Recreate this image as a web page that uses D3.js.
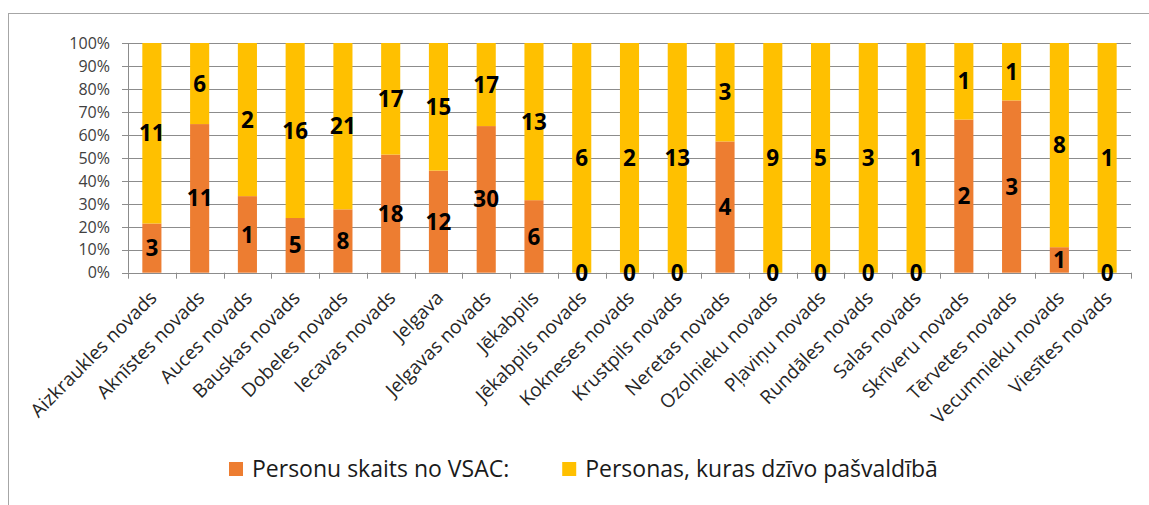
<!DOCTYPE html>
<html>
<head>
<meta charset="utf-8">
<script src="https://cdn.jsdelivr.net/npm/d3@7"></script>
<style>
  body { margin: 0; background: #fff; }
  text { font-family: "Open Sans", sans-serif; }
</style>
</head>
<body>
<svg id="chart" width="1149" height="505"></svg>
<script>
// categories (municipalities)
var categories = [
  "Aizkraukles novads", "Aknīstes novads", "Auces novads", "Bauskas novads",
  "Dobeles novads", "Iecavas novads", "Jelgava", "Jelgavas novads", "Jēkabpils",
  "Jēkabpils novads", "Kokneses novads", "Krustpils novads", "Neretas novads",
  "Ozolnieku novads", "Pļaviņu novads", "Rundāles novads", "Salas novads",
  "Skrīveru novads", "Tērvetes novads", "Vecumnieku novads", "Viesītes novads"
];
// Personu skaits no VSAC:
var fromVsac = [3, 11, 1, 5, 8, 18, 12, 30, 6, 0, 0, 0, 4, 0, 0, 0, 0, 2, 3, 1, 0];
// Personas, kuras dzīvo pašvaldībā
var living = [11, 6, 2, 16, 21, 17, 15, 17, 13, 6, 2, 13, 3, 9, 5, 3, 1, 1, 1, 8, 1];

var seriesNames = ["Personu skaits no VSAC:", "Personas, kuras dzīvo pašvaldībā"];
var yTicks = [0, 0.1, 0.2, 0.3, 0.4, 0.5, 0.6, 0.7, 0.8, 0.9, 1];

var colors = ["#ED7D31", "#FFC000"];

var svg = d3.select("#chart");

// outer chart frame (runs past the right and bottom edge of the picture)
svg.append("rect")
  .attr("x", 8.5).attr("y", 13.5)
  .attr("width", 1170).attr("height", 520)
  .attr("fill", "none")
  .attr("stroke", "#a6a6a6");

var plotLeft = 128, plotRight = 1131, plotTop = 43, plotBottom = 272.7;

var rows = categories.map(function(c, i) {
  return { cat: c, a: fromVsac[i], b: living[i] };
});

var stack = d3.stack().keys(["a", "b"]).offset(d3.stackOffsetExpand);
var layers = stack(rows);

var x = d3.scaleBand()
  .domain(categories)
  .range([plotLeft, plotRight])
  .paddingInner(0.6)
  .paddingOuter(0.3);

var y = d3.scaleLinear().domain([0, 1]).range([plotBottom, plotTop]);

// gridlines
svg.append("g")
  .selectAll("line")
  .data(yTicks)
  .enter().append("line")
  .attr("x1", plotLeft - 6).attr("x2", plotRight)
  .attr("y1", function(d) { return Math.round(y(d)) + 0.5; })
  .attr("y2", function(d) { return Math.round(y(d)) + 0.5; })
  .attr("stroke", "#8c8c8c")
  .attr("stroke-width", 1);

// y axis labels
svg.append("g")
  .selectAll("text")
  .data(yTicks)
  .enter().append("text")
  .attr("x", 110)
  .attr("y", function(d) { return y(d); })
  .attr("dy", "0.36em")
  .attr("text-anchor", "end")
  .attr("font-size", 16)
  .attr("fill", "#404040")
  .text(d3.format(".0%"));

// y axis line
svg.append("line")
  .attr("x1", plotLeft + 0.5).attr("x2", plotLeft + 0.5)
  .attr("y1", plotTop).attr("y2", plotBottom)
  .attr("stroke", "#8c8c8c");

// bars
var layerG = svg.append("g")
  .selectAll("g")
  .data(layers)
  .enter().append("g")
  .attr("fill", function(d, i) { return colors[i]; });

layerG.selectAll("rect")
  .data(function(d) { return d; })
  .enter().append("rect")
  .attr("x", function(d) { return x(d.data.cat); })
  .attr("width", x.bandwidth())
  .attr("y", function(d) { return y(d[1]); })
  .attr("height", function(d) { return y(d[0]) - y(d[1]); });

// x axis line and ticks at category boundaries
var step = x.step();
svg.append("line")
  .attr("x1", plotLeft).attr("x2", plotRight)
  .attr("y1", Math.round(plotBottom) + 0.5).attr("y2", Math.round(plotBottom) + 0.5)
  .attr("stroke", "#8c8c8c");

svg.append("g")
  .selectAll("line")
  .data(d3.range(categories.length + 1))
  .enter().append("line")
  .attr("x1", function(i) { return Math.round(plotLeft + i * step) + 0.5; })
  .attr("x2", function(i) { return Math.round(plotLeft + i * step) + 0.5; })
  .attr("y1", plotBottom).attr("y2", plotBottom + 6)
  .attr("stroke", "#8c8c8c");

// data labels
svg.append("g")
  .selectAll("g")
  .data(layers)
  .enter().append("g")
  .selectAll("text")
  .data(function(d) { return d.map(function(p) { return { p: p, key: d.key }; }); })
  .enter().append("text")
  .attr("x", function(d) { return x(d.p.data.cat) + x.bandwidth() / 2; })
  .attr("y", function(d) { return y((d.p[0] + d.p[1]) / 2); })
  .attr("dy", "0.36em")
  .attr("text-anchor", "middle")
  .attr("font-size", 22.5)
  .attr("font-weight", "bold")
  .attr("fill", "#000")
  .text(function(d) { return d.p.data[d.key]; });

// category labels
svg.append("g")
  .selectAll("text")
  .data(categories)
  .enter().append("text")
  .attr("transform", function(d) {
    return "translate(" + (x(d) + x.bandwidth() / 2 + 6) + "," + 299 + ") rotate(-45)";
  })
  .attr("text-anchor", "end")
  .attr("font-size", 19)
  .attr("fill", "#262626")
  .text(function(d) { return d; });

// legend
var legend = svg.append("g");
var lx = 229;
seriesNames.forEach(function(name, i) {
  legend.append("rect")
    .attr("x", lx).attr("y", 462)
    .attr("width", 14).attr("height", 14)
    .attr("fill", colors[i]);
  var t = legend.append("text")
    .attr("x", lx + 23).attr("y", 477)
    .attr("font-size", 23)
    .attr("fill", "#1a1a1a")
    .text(name);
  lx = lx + 23 + t.node().getComputedTextLength() + 53;
});
</script>
</body>
</html>
